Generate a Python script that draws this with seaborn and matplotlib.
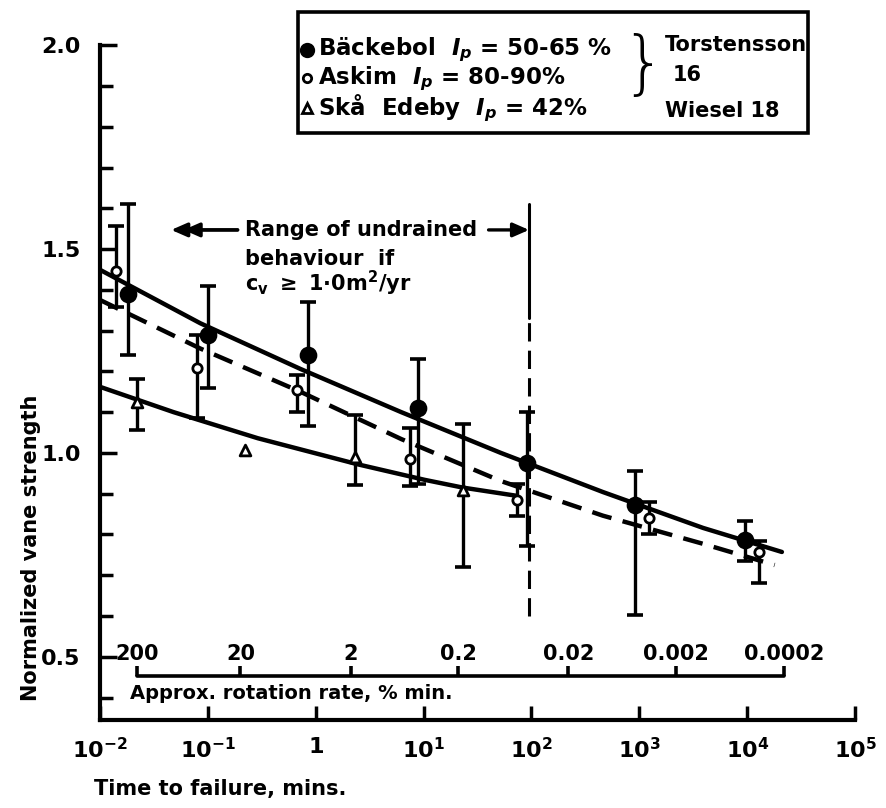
#!/usr/bin/env python3
from __future__ import annotations

import numpy as np
import pandas as pd
import seaborn as sns
from matplotlib import pyplot as plt
from matplotlib.patches import Rectangle

# Bäckebol (filled circles)
backebol_t = [0.018, 0.10, 0.85, 8.8, 91, 920, 9500]
backebol_v = [1.39, 1.29, 1.24, 1.11, 0.975, 0.873, 0.787]
backebol_hi = [1.61, 1.41, 1.37, 1.23, 1.10, 0.955, 0.834]
backebol_lo = [1.24, 1.16, 1.065, 0.924, 0.771, 0.603, 0.734]

# Askim (open circles)
askim_t = [0.014, 0.079, 0.67, 7.4, 73, 1230, 13000]
askim_v = [1.447, 1.208, 1.155, 0.985, 0.885, 0.840, 0.756]
askim_hi = [1.556, 1.289, 1.19, 1.06, 0.924, 0.880, 0.783]
askim_lo = [1.359, 1.085, 1.10, 0.92, 0.845, 0.801, 0.680]

# Skå Edeby (open triangles); second point has no bar
skaa_t = [0.022, 0.22, 2.3, 23]
skaa_v = [1.126, 1.007, 0.991, 0.909]
skaa_hi = [1.181, np.nan, 1.093, 1.071]
skaa_lo = [1.056, np.nan, 0.922, 0.720]

# fitted curves
backebol_curve_t = [0.01, 0.085, 0.72, 6.2, 52, 460, 3900, 21000]
backebol_curve_v = [1.449, 1.318, 1.206, 1.100, 1.000, 0.904, 0.816, 0.757]
askim_curve_t = [0.01, 0.085, 0.72, 6.2, 52, 460, 3900, 18000]
askim_curve_v = [1.375, 1.256, 1.150, 1.034, 0.931, 0.846, 0.777, 0.725]
skaa_curve_t = [0.01, 0.048, 0.29, 2.45, 10.2, 23, 72]
skaa_curve_v = [1.162, 1.100, 1.036, 0.972, 0.934, 0.915, 0.895]

# secondary scale: approx. rotation rate
rate_labels = ["200", "20", "2", "0.2", "0.02", "0.002", "0.0002"]
rate_tick_t = [0.022, 0.2, 2.1, 21, 220, 2200, 22000]

x_ticks = [1e-2, 1e-1, 1, 1e1, 1e2, 1e3, 1e4, 1e5]
x_labels = ["$10^{-2}$", "$10^{-1}$", "1", "$10^{1}$", "$10^{2}$", "$10^{3}$", "$10^{4}$", "$10^{5}$"]
y_ticks = [0.5, 1.0, 1.5, 2.0]
undrained_limit_t = 95

LW = 3.2
FS = 15


def draw_series(ax, t, v, lo, hi, marker, filled, size):
    df = pd.DataFrame({"t": t, "v": v})
    yerr = np.array([np.subtract(v, lo), np.subtract(hi, v)])
    ax.errorbar(t, v, yerr=yerr, fmt="none", ecolor="black", elinewidth=2.4,
                capsize=6, capthick=2.6, zorder=3)
    sns.scatterplot(data=df, x="t", y="v", marker=marker, s=size, ax=ax,
                    color="black" if filled else "white", edgecolor="black",
                    linewidth=2.0, zorder=4, legend=False)


def main() -> None:
    sns.set_theme(style="ticks")
    plt.rcParams["font.family"] = ["DejaVu Sans"]
    plt.rcParams["font.weight"] = "bold"
    plt.rcParams["mathtext.default"] = "bf"
    for key in ("text.color", "axes.labelcolor", "xtick.color", "ytick.color", "axes.edgecolor"):
        plt.rcParams[key] = "black"

    fig = plt.figure(figsize=(8.86, 8.08), dpi=100)
    ax = fig.add_axes([0.113, 0.109, 0.852, 0.835])
    ax.set_xscale("log")

    curves = [
        (backebol_curve_t, backebol_curve_v, "-"),
        (askim_curve_t, askim_curve_v, (0, (4.5, 2.6))),
        (skaa_curve_t, skaa_curve_v, "-"),
    ]
    for ct, cv, ls in curves:
        sns.lineplot(x=ct, y=cv, ax=ax, color="black", lw=LW, linestyle=ls,
                     estimator=None, sort=False, zorder=2)

    draw_series(ax, backebol_t, backebol_v, backebol_lo, backebol_hi, "o", True, 115)
    draw_series(ax, askim_t, askim_v, askim_lo, askim_hi, "o", False, 45)
    draw_series(ax, skaa_t, skaa_v, skaa_lo, skaa_hi, "^", False, 60)

    # limit of undrained behaviour
    ax.plot([undrained_limit_t, undrained_limit_t], [1.33, 1.61], color="black", lw=2.2)
    ax.plot([undrained_limit_t, undrained_limit_t], [0.60, 1.33], color="black", lw=2.2,
            linestyle=(0, (6, 3)))
    head = dict(arrowstyle="-|>,head_length=0.8,head_width=0.35", color="black", lw=2.4)
    ax.annotate("", xy=(0.043, 1.547), xytext=(0.2, 1.547), arrowprops=head)
    ax.annotate("", xy=(0.056, 1.547), xytext=(0.2, 1.547), arrowprops=head)
    ax.annotate("", xy=(undrained_limit_t, 1.547), xytext=(40, 1.547),
                arrowprops=dict(head, shrinkA=0, shrinkB=0))
    ax.text(0.22, 1.547, "Range of undrained", fontsize=FS, va="center", ha="left")
    ax.text(0.22, 1.475, "behaviour  if", fontsize=FS, va="center", ha="left")
    ax.text(0.22, 1.415, r"$\mathregular{c_v}$ $\geq$ 1·0m$^2$/yr", fontsize=FS,
            va="center", ha="left")

    # rotation rate scale
    ax.plot([rate_tick_t[0], rate_tick_t[-1]], [0.453, 0.453], color="black", lw=2.6)
    ax.vlines(rate_tick_t, 0.453, 0.478, color="black", lw=2.6)
    for t, lab in zip(rate_tick_t, rate_labels):
        ax.text(t, 0.507, lab, fontsize=FS, ha="center", va="center")
    ax.text(0.019, 0.409, "Approx. rotation rate, % min.", fontsize=FS - 1,
            ha="left", va="center")

    # legend box
    ax.add_patch(Rectangle((0.262, 0.870), 0.676, 0.179, transform=ax.transAxes,
                           fill=False, lw=2.6, ec="black", clip_on=False))
    rows = [
        ("o", "black", 9, r"Bäckebol  $\mathit{I_p}$ = 50-65 %", 0.993),
        ("o", "white", 6, r"Askim  $\mathit{I_p}$ = 80-90%", 0.951),
        ("^", "white", 7, r"Skå  Edeby  $\mathit{I_p}$ = 42%", 0.907),
    ]
    for mk, fc, ms, label, yy in rows:
        ax.plot([0.274], [yy], marker=mk, ms=ms, mfc=fc, mec="black", mew=2,
                transform=ax.transAxes, clip_on=False)
        ax.text(0.289, yy, label, fontsize=FS + 1.5, va="center", ha="left",
                transform=ax.transAxes)
    ax.text(0.720, 0.968, "}", fontsize=50, fontweight="light", va="center",
            ha="center", transform=ax.transAxes)
    ax.text(0.748, 1.0, "Torstensson", fontsize=FS, va="center", ha="left",
            transform=ax.transAxes)
    ax.text(0.758, 0.956, "16", fontsize=FS, va="center", ha="left",
            transform=ax.transAxes)
    ax.text(0.748, 0.903, "Wiesel 18", fontsize=FS, va="center", ha="left",
            transform=ax.transAxes)

    # axes styling
    ax.set_xlim(1e-2, 1e5)
    ax.set_ylim(0.345, 2.0)
    ax.set_xticks(x_ticks)
    ax.set_xticklabels(x_labels, fontsize=FS + 1)
    ax.xaxis.set_minor_locator(plt.NullLocator())
    ax.set_yticks(y_ticks)
    ax.set_yticklabels([f"{v:.1f}" for v in y_ticks], fontsize=FS + 1, fontweight="bold")
    ax.set_yticks(np.arange(0.4, 2.0, 0.1), minor=True)
    ax.tick_params(axis="x", which="major", direction="in", length=10, width=2.5, pad=12)
    ax.tick_params(axis="y", which="major", direction="in", length=12, width=2.5, pad=14)
    ax.tick_params(axis="y", which="minor", direction="in", length=9, width=2.5)
    sns.despine(ax=ax)
    for side in ("left", "bottom"):
        ax.spines[side].set_linewidth(3)

    ax.set_ylabel("Normalized vane strength", fontsize=FS, fontweight="bold")
    ax.yaxis.set_label_coords(-0.078, 0.255)
    ax.set_xlabel("Time to failure, mins.", fontsize=FS, fontweight="bold")
    ax.xaxis.set_label_coords(0.159, -0.087)

    fig.savefig("out.png", dpi=100)
    plt.close(fig)


if __name__ == "__main__":
    main()
